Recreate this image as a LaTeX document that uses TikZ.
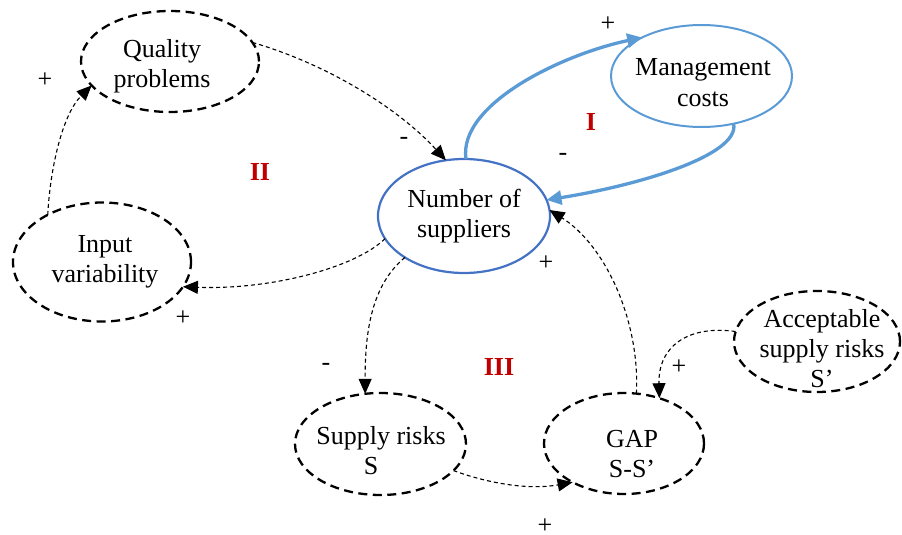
\documentclass[tikz,border=0pt]{standalone}
\usepackage{fontspec}
\setmainfont{Liberation Serif}
\usetikzlibrary{arrows.meta,shapes.geometric}
\definecolor{numblue}{HTML}{4472C4}
\definecolor{lightblue}{HTML}{5B9BD5}
\definecolor{loopred}{HTML}{C00000}
\newcommand\cellstack[1]{\begin{tabular}[t]{@{}c@{}}#1\end{tabular}}

\begin{document}
\begin{tikzpicture}[x=1pt,y=-1pt,
  every node/.style={font=\fontsize{26}{30}\selectfont, inner sep=0pt, outer sep=0pt},
  factor/.style={ellipse, draw, line width=2.3pt, dash pattern=on 9pt off 5.5pt},
  keyfactor/.style={ellipse, draw=numblue, line width=2.2pt},
  costfactor/.style={ellipse, draw=lightblue, line width=2pt},
  caption/.style={anchor=base},
  link/.style={line width=1.1pt, dash pattern=on 4pt off 3pt,
    -{Triangle[length=15pt,width=13pt]}},
  bluelink/.style={draw=lightblue, line width=3.3pt,
    -{Triangle[length=15pt,width=14pt,fill=lightblue]}},
  sign/.style={anchor=center},
  loopname/.style={anchor=center, text=loopred,
    font=\fontsize{26}{30}\selectfont\bfseries}
]
\useasboundingbox (0,0) rectangle (902,535);

% factor outlines
\node[factor, minimum width=178pt, minimum height=101pt] (qp) at (170,61.5) {};
\node[factor, minimum width=178pt, minimum height=119pt] (iv) at (102,262) {};
\node[keyfactor, minimum width=172pt, minimum height=114pt] (ns) at (464,216) {};
\node[costfactor, minimum width=181pt, minimum height=102pt] (mc) at (701.5,76) {};
\node[factor, minimum width=171pt, minimum height=102pt] (sr) at (380.5,444) {};
\node[factor, minimum width=160pt, minimum height=101pt] (gap) at (624,443.5) {};
\node[factor, minimum width=166pt, minimum height=101pt] (acc) at (817,341.5) {};

% factor names
\node[caption] (qpt) at (162,58) {\cellstack{Quality\\problems}};
\node[caption] (ivt) at (105,252) {\cellstack{Input\\variability}};
\node[caption] (nst) at (464,207) {\cellstack{Number of\\suppliers}};
\node[caption] (mct) at (703,76) {\cellstack{Management\\costs}};
\node[caption] (srt) at (381,444) {\cellstack{Supply risks\\S\hspace*{20pt}}};
\node[caption] (gapt) at (632,447) {\cellstack{GAP\\S-S’}};
\node[caption] (acct) at (822,327) {\cellstack{Acceptable\\supply risks\\S’}};

% causal links
\draw[link] (qp.13) .. controls (330,65) and (400,110) .. (ns.108);
\draw[link] (iv.139) .. controls (50,170) and (62,115) .. (qp.197);
\draw[link] (ns.196) .. controls (355,268) and (270,290) .. (iv.-17);
\draw[link] (ns.215) .. controls (372,285) and (365,330) .. (sr.107);
\draw[link] (sr.-20) .. controls (490,484) and (530,490) .. (gap.217);
\draw[link] (gap.76) .. controls (640,320) and (605,245) .. (ns.4);
\draw[link] (acc.173) .. controls (690,325) and (658,345) .. (gap.52);

% reinforcing cost loop
\draw[bluelink] (ns.88) .. controls (458,105) and (560,55) .. (mc.147);
\draw[bluelink] (mc.-56) .. controls (740,155) and (640,185) .. (ns.11);

% polarity signs
\node[sign] (s1) at (45,80) {+};
\node[sign] (s2) at (404,141) {-};
\node[sign] (s3) at (183,318) {+};
\node[sign] (s4) at (608,24) {+};
\node[sign] (s5) at (563,157) {-};
\node[sign] (s6) at (546,263) {+};
\node[sign] (s7) at (326,367) {-};
\node[sign] (s8) at (545,526) {+};
\node[sign] (s9) at (679,367) {+};

% loop labels
\node[loopname] (l1) at (591,122) {I};
\node[loopname] (l2) at (260,172) {II};
\node[loopname] (l3) at (499,367) {III};
\end{tikzpicture}
\end{document}
